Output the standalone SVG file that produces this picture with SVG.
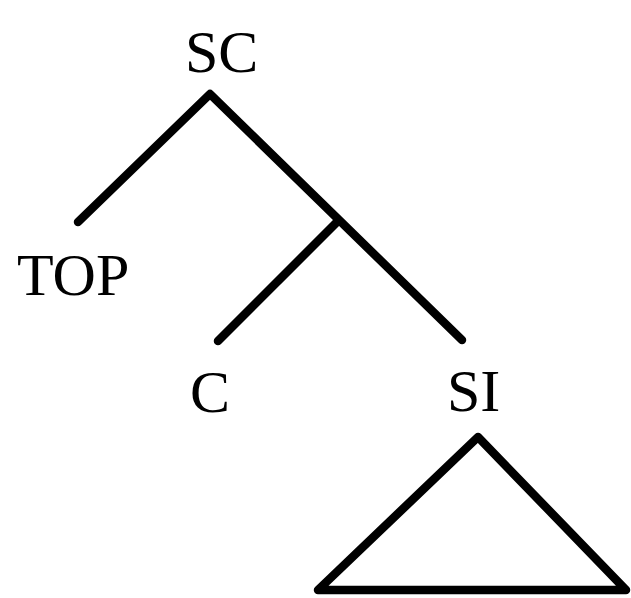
<svg xmlns="http://www.w3.org/2000/svg" width="631" height="598" viewBox="0 0 631 598">
<style>
.lbl{font-family:"Liberation Serif","Times New Roman",serif;font-size:60px;fill:#000}
.e{stroke:#000;stroke-width:8.5;fill:none;stroke-linecap:round;stroke-linejoin:round}
</style>
<rect width="631" height="598" fill="#fff"/>
<g id="connectors">
<polyline class="e" points="78,222 210,94 462,340"/>
<line class="e" x1="338" y1="221" x2="218" y2="341"/>
</g>
<g id="SC"><text class="lbl" x="185" y="72">SC</text></g>
<g id="TOP"><text class="lbl" x="17" y="295">TOP</text></g>
<g id="C"><text class="lbl" x="190" y="412">C</text></g>
<g id="SI"><text class="lbl" x="447" y="411">SI</text>
<polygon class="e" points="478,437 318,590 626,590"/></g>
</svg>
